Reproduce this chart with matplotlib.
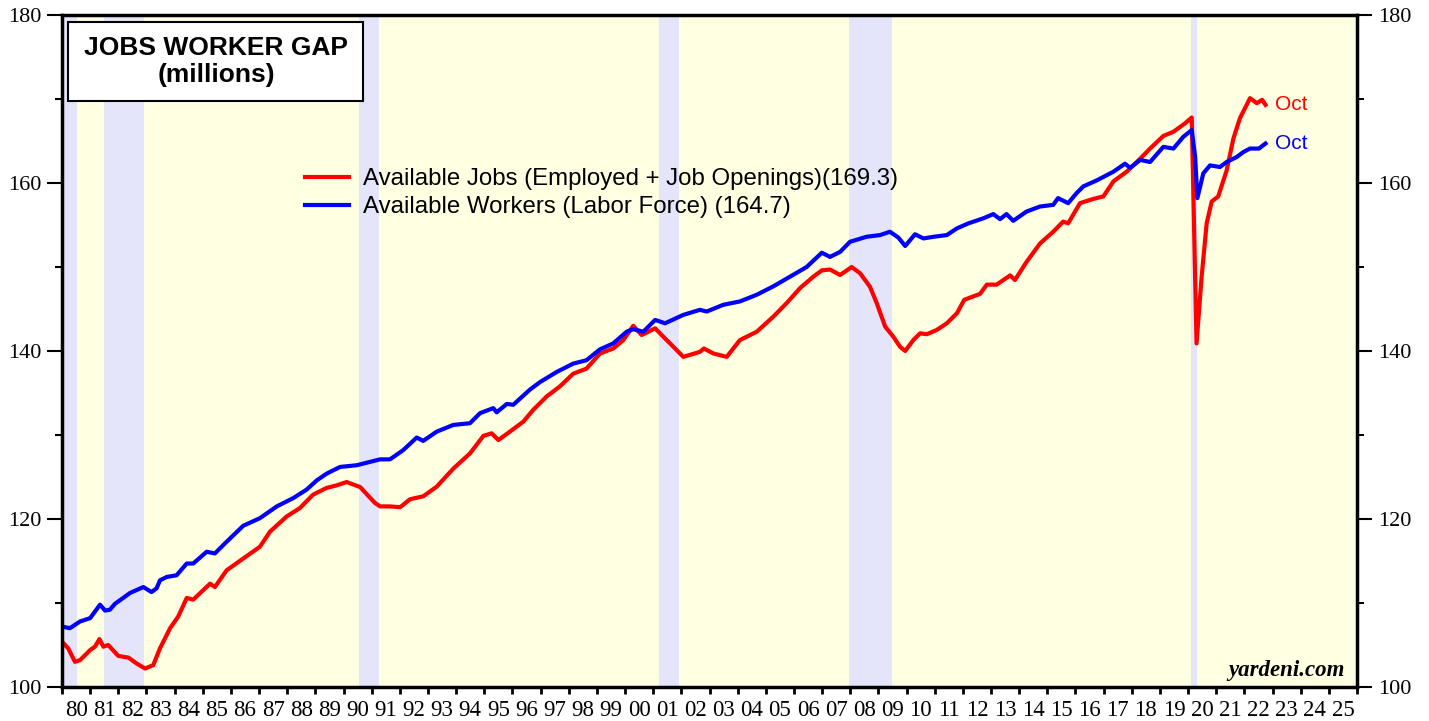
import matplotlib
matplotlib.use('Agg')
import matplotlib.pyplot as plt
from matplotlib.patches import Rectangle
from matplotlib.ticker import FixedLocator, FixedFormatter, MultipleLocator

# Available Jobs (Employed + Job Openings), millions
jobs_t = [1980.0, 1980.22, 1980.46, 1980.64, 1981.0, 1981.17, 1981.33, 1981.47, 1981.64, 1982.0,
          1982.36, 1982.65, 1982.95, 1983.24, 1983.48, 1983.84, 1984.13, 1984.43, 1984.66, 1985.26,
          1985.43, 1985.85, 1986.44, 1987.03, 1987.39, 1987.98, 1988.45, 1988.92, 1989.40, 1989.75,
          1990.11, 1990.59, 1991.12, 1991.30, 1991.65, 1992.01, 1992.36, 1992.83, 1993.31, 1993.90,
          1994.49, 1994.97, 1995.26, 1995.50, 1995.91, 1996.39, 1996.74, 1997.22, 1997.69, 1998.16,
          1998.63, 1999.11, 1999.58, 1999.94, 2000.29, 2000.59, 2001.07, 2001.36, 2001.60, 2002.07,
          2002.66, 2002.80, 2003.14, 2003.61, 2004.08, 2004.68, 2005.27, 2005.74, 2006.22, 2006.69,
          2006.99, 2007.28, 2007.64, 2008.05, 2008.35, 2008.70, 2008.94, 2009.24, 2009.53, 2009.77,
          2009.95, 2010.24, 2010.48, 2010.72, 2011.07, 2011.43, 2011.79, 2012.05, 2012.61, 2012.85,
          2013.20, 2013.68, 2013.85, 2014.26, 2014.74, 2015.21, 2015.56, 2015.74, 2016.16, 2016.63,
          2016.99, 2017.35, 2017.82, 2018.30, 2018.65, 2019.12, 2019.48, 2019.89, 2020.13, 2020.30,
          2020.48, 2020.66, 2020.84, 2021.07, 2021.37, 2021.61, 2021.84, 2022.20, 2022.44, 2022.63,
          2022.75]
jobs = [105.4, 104.6, 103.0, 103.2, 104.4, 104.8, 105.7, 104.8, 105.0, 103.7,
        103.5, 102.8, 102.2, 102.6, 104.6, 107.0, 108.4, 110.6, 110.4, 112.3,
        111.9, 113.9, 115.3, 116.7, 118.5, 120.3, 121.3, 122.9, 123.7, 124.0,
        124.4, 123.8, 121.9, 121.5, 121.5, 121.4, 122.35, 122.7, 123.85, 126.0,
        127.8, 129.9, 130.2, 129.4, 130.4, 131.6, 133.0, 134.6, 135.8, 137.3,
        137.9, 139.7, 140.3, 141.3, 143.0, 141.9, 142.7, 141.7, 140.9, 139.3,
        139.9, 140.3, 139.7, 139.3, 141.3, 142.3, 144.1, 145.7, 147.5, 148.85,
        149.6, 149.7, 149.05, 150.0, 149.25, 147.65, 145.7, 142.9, 141.7, 140.5,
        140.0, 141.3, 142.1, 142.0, 142.5, 143.3, 144.5, 146.1, 146.8, 147.9,
        147.9, 149.0, 148.45, 150.6, 152.8, 154.2, 155.4, 155.2, 157.6, 158.1,
        158.4, 160.2, 161.35, 162.9, 164.1, 165.6, 166.1, 167.1, 167.8, 140.9,
        148.8, 155.2, 157.8, 158.4, 161.5, 165.3, 167.7, 170.1, 169.5, 169.9,
        169.3]

# Available Workers (Labor Force), millions
workers_t = [1980.0, 1980.28, 1980.64, 1981.0, 1981.35, 1981.53, 1981.7, 1981.88, 1982.42, 1982.89,
             1983.18, 1983.36, 1983.48, 1983.72, 1984.07, 1984.43, 1984.66, 1985.14, 1985.43, 1985.85,
             1986.44, 1987.03, 1987.63, 1988.22, 1988.69, 1989.05, 1989.40, 1989.88, 1990.47, 1990.94,
             1991.30, 1991.65, 1992.12, 1992.60, 1992.83, 1993.31, 1993.90, 1994.49, 1994.85, 1995.32,
             1995.44, 1995.80, 1996.03, 1996.62, 1996.98, 1997.57, 1998.16, 1998.63, 1999.11, 1999.58,
             2000.06, 2000.29, 2000.65, 2001.07, 2001.42, 2002.07, 2002.66, 2002.90, 2003.49, 2004.08,
             2004.68, 2005.27, 2005.86, 2006.45, 2006.99, 2007.28, 2007.64, 2007.99, 2008.58, 2009.06,
             2009.41, 2009.71, 2009.95, 2010.30, 2010.60, 2010.96, 2011.43, 2011.79, 2012.20, 2012.73,
             2013.08, 2013.32, 2013.55, 2013.79, 2014.26, 2014.74, 2015.21, 2015.38, 2015.74, 2016.04,
             2016.28, 2016.75, 2017.35, 2017.76, 2017.94, 2018.30, 2018.65, 2019.12, 2019.48, 2019.83,
             2020.13, 2020.25, 2020.33, 2020.54, 2020.78, 2021.13, 2021.37, 2021.73, 2021.97, 2022.20,
             2022.52, 2022.63, 2022.75]
workers = [107.2, 107.0, 107.8, 108.2, 109.8, 109.1, 109.2, 109.9, 111.2, 111.9,
           111.3, 111.75, 112.7, 113.1, 113.3, 114.7, 114.7, 116.1, 115.9, 117.3,
           119.2, 120.1, 121.5, 122.5, 123.5, 124.6, 125.4, 126.2, 126.4, 126.8,
           127.1, 127.1, 128.2, 129.7, 129.3, 130.4, 131.2, 131.4, 132.6, 133.2,
           132.7, 133.7, 133.6, 135.4, 136.3, 137.5, 138.5, 138.9, 140.2, 140.9,
           142.3, 142.6, 142.3, 143.7, 143.3, 144.3, 144.9, 144.7, 145.5, 145.9,
           146.7, 147.7, 148.85, 150.0, 151.7, 151.2, 151.8, 153.0, 153.6, 153.8,
           154.2, 153.5, 152.5, 153.9, 153.4, 153.6, 153.8, 154.6, 155.2, 155.8,
           156.3, 155.7, 156.3, 155.5, 156.6, 157.2, 157.4, 158.2, 157.6, 158.8,
           159.6, 160.3, 161.35, 162.3, 161.8, 162.75, 162.5, 164.3, 164.1, 165.5,
           166.3, 163.1, 158.2, 161.15, 162.1, 161.9, 162.5, 163.1, 163.7, 164.1,
           164.1, 164.4, 164.7]

# recession periods (start, end) in decimal years
recessions = [(1980.0, 1980.55), (1981.5, 1982.9), (1990.55, 1991.25), (2001.2, 2001.9),
              (2007.95, 2009.5), (2020.1, 2020.33)]

years = list(range(1980, 2026))
year_labels = [f'{y % 100:02d}' for y in years]

serif = 'Liberation Serif'
sans = 'Liberation Sans'

fig = plt.figure(figsize=(14.29, 7.21), dpi=100)
ax = fig.add_axes([62 / 1429, 34 / 721, 1295 / 1429, 672 / 721])
ax.set_facecolor('#ffffe1')

for a, b in recessions:
    ax.axvspan(a, b, color='#e4e4fa', lw=0)

ax.plot(jobs_t, jobs, color='#ff0000', lw=3, solid_joinstyle='round',
        label='Available Jobs (Employed + Job Openings)(169.3)')
ax.plot(workers_t, workers, color='#0000ff', lw=3, solid_joinstyle='round',
        label='Available Workers (Labor Force) (164.7)')

ax.annotate('Oct', (jobs_t[-1], jobs[-1]), xytext=(7, 0), textcoords='offset points',
            va='center', ha='left', color='#ff0000', fontsize=15, family=sans)
ax.annotate('Oct', (workers_t[-1], workers[-1]), xytext=(7, 0), textcoords='offset points',
            va='center', ha='left', color='#0000ff', fontsize=15, family=sans)

ax.set_xlim(1980, 2026)
ax.set_ylim(100, 180)

# y axis: both sides
ax.yaxis.set_major_locator(MultipleLocator(20))
ax.yaxis.set_minor_locator(MultipleLocator(10))
ax.tick_params(axis='y', which='major', direction='out', length=11, width=1.5,
               left=True, right=True, labelleft=True, labelright=True, labelsize=16, pad=4)
ax.tick_params(axis='y', which='minor', direction='out', length=5, width=1.5,
               left=True, right=True)

# x axis: ticks at year boundaries, labels in the middle
ax.xaxis.set_major_locator(FixedLocator(years + [2026]))
ax.xaxis.set_major_formatter(FixedFormatter([''] * (len(years) + 1)))
ax.xaxis.set_minor_locator(FixedLocator([y + 0.5 for y in years]))
ax.xaxis.set_minor_formatter(FixedFormatter(year_labels))
ax.tick_params(axis='x', which='major', direction='out', length=5, width=2)
ax.tick_params(axis='x', which='minor', length=0, labelsize=16.5, pad=9)

for lab in ax.xaxis.get_ticklabels(which='both') + ax.yaxis.get_ticklabels(which='both'):
    lab.set_family(serif)

for s in ax.spines.values():
    s.set_linewidth(2.5)

# title box
ax.add_patch(Rectangle((0.0046, 0.872), 0.2278, 0.1176, transform=ax.transAxes,
                       facecolor='white', edgecolor='black', lw=1.5, zorder=5))
ax.text(0.119, 0.951, 'JOBS WORKER GAP', transform=ax.transAxes, ha='center', va='center',
        fontsize=19, fontweight='bold', family=sans, zorder=6)
ax.text(0.119, 0.911, '(millions)', transform=ax.transAxes, ha='center', va='center',
        fontsize=19, fontweight='bold', family=sans, zorder=6)

leg = ax.legend(loc='center left', bbox_to_anchor=(305 / 1429, 1 - 193 / 721),
                bbox_transform=fig.transFigure, frameon=False, prop={'family': sans, 'size': 17.3},
                handlelength=1.85, handletextpad=0.55, labelspacing=0.25, borderpad=0, borderaxespad=0)

ax.text(0.9907, 0.024, 'yardeni.com', transform=ax.transAxes, ha='right', va='center',
        fontsize=16.5, fontweight='bold', style='italic', family=serif)

fig.savefig('out.png', dpi=100)
